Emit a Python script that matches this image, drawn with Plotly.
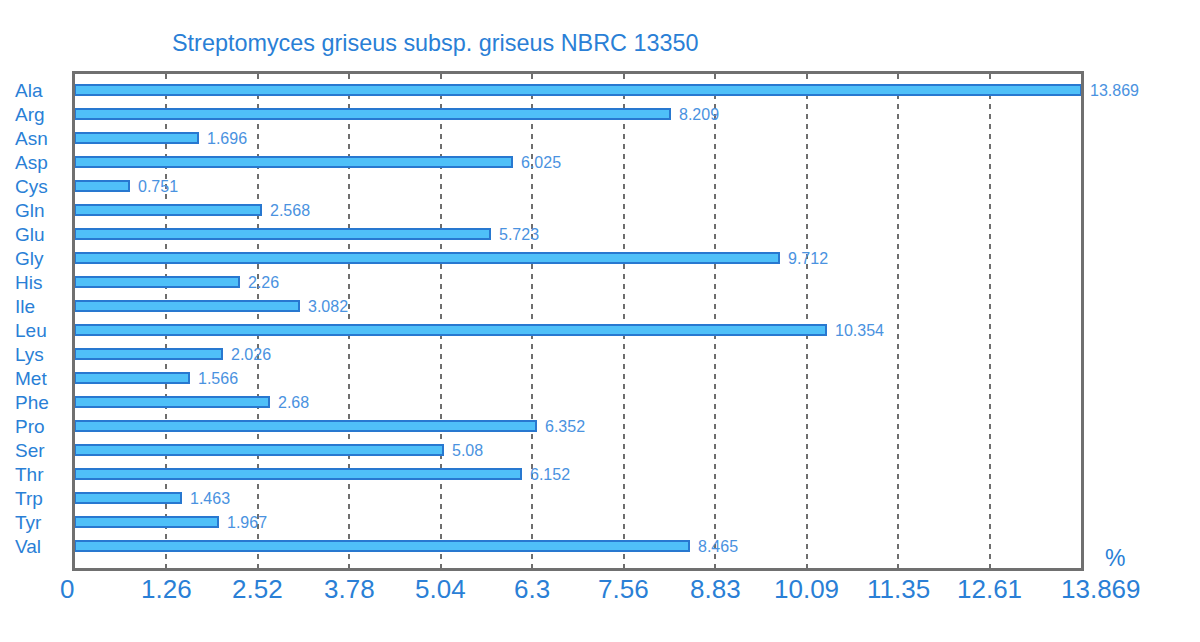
import plotly.graph_objects as go

# amino acid composition (%)
amino_acids = ['Ala', 'Arg', 'Asn', 'Asp', 'Cys', 'Gln', 'Glu', 'Gly', 'His', 'Ile',
               'Leu', 'Lys', 'Met', 'Phe', 'Pro', 'Ser', 'Thr', 'Trp', 'Tyr', 'Val']
percent = [13.869, 8.209, 1.696, 6.025, 0.751, 2.568, 5.723, 9.712, 2.26, 3.082,
           10.354, 2.026, 1.566, 2.68, 6.352, 5.08, 6.152, 1.463, 1.967, 8.465]
tick_labels = ['0', '1.26', '2.52', '3.78', '5.04', '6.3', '7.56', '8.83',
               '10.09', '11.35', '12.61', '13.869']

xmax = max(percent)
n_ticks = len(tick_labels) - 1
tick_vals = [xmax * k / n_ticks for k in range(n_ticks + 1)]
idx = list(range(len(amino_acids)))

blue = '#2a7fd6'
font = 'Liberation Sans, Arial, sans-serif'

fig = go.Figure()
fig.add_trace(go.Bar(
    x=percent, y=idx, orientation='h', width=0.45,
    marker=dict(color='#4fc0f8', line=dict(color='#2878d0', width=2)),
    hoverinfo='x+text', hovertext=amino_acids,
))

annotations = []
# value labels
for i, v in enumerate(percent):
    annotations.append(dict(x=v, y=i, xref='x', yref='y', text=str(v), showarrow=False,
                            xanchor='left', xshift=7,
                            font=dict(family=font, size=16, color='#4a92e0')))
# category labels (left aligned)
for i, name in enumerate(amino_acids):
    annotations.append(dict(x=-62 / 1006, y=i, xref='paper', yref='y', text=name,
                            showarrow=False, xanchor='left',
                            font=dict(family=font, size=19, color=blue)))
# x tick labels
for k, (tv, tl) in enumerate(zip(tick_vals, tick_labels)):
    shift = -8 if k == 0 else (20 if k == n_ticks else 0)
    annotations.append(dict(x=tv, y=0, xref='x', yref='paper', text=tl, showarrow=False,
                            xanchor='center', yanchor='top', yshift=-4, xshift=shift,
                            font=dict(family=font, size=26, color=blue)))
annotations.append(dict(x=1, y=0, xref='paper', yref='paper', text='%', showarrow=False,
                        xanchor='center', yanchor='bottom', xshift=34, yshift=-5,
                        font=dict(family=font, size=23, color=blue)))

fig.update_layout(
    width=1200, height=642,
    margin=dict(l=67, r=127, t=66, b=82),
    paper_bgcolor='white', plot_bgcolor='white',
    showlegend=False,
    title=dict(text='Streptomyces griseus subsp. griseus NBRC 13350',
               x=164 / 1200, xanchor='left', y=1 - 35 / 642, yanchor='middle',
               font=dict(family=font, size=23.4, color=blue)),
    annotations=annotations,
    bargap=0,
)
fig.update_xaxes(range=[0, xmax], tickvals=tick_vals[1:-1], showticklabels=False,
                 showgrid=True, gridcolor='#6e6e6e', griddash='5px,5px', gridwidth=2,
                 zeroline=False, showline=True, mirror=True, linecolor='#707070',
                 linewidth=2.5, ticks='')
fig.update_yaxes(range=[19 + 22 / 24, -16 / 24], showticklabels=False, showgrid=False,
                 zeroline=False, showline=True, mirror=True, linecolor='#707070',
                 linewidth=2.5, ticks='')

fig.write_html('out.html')
